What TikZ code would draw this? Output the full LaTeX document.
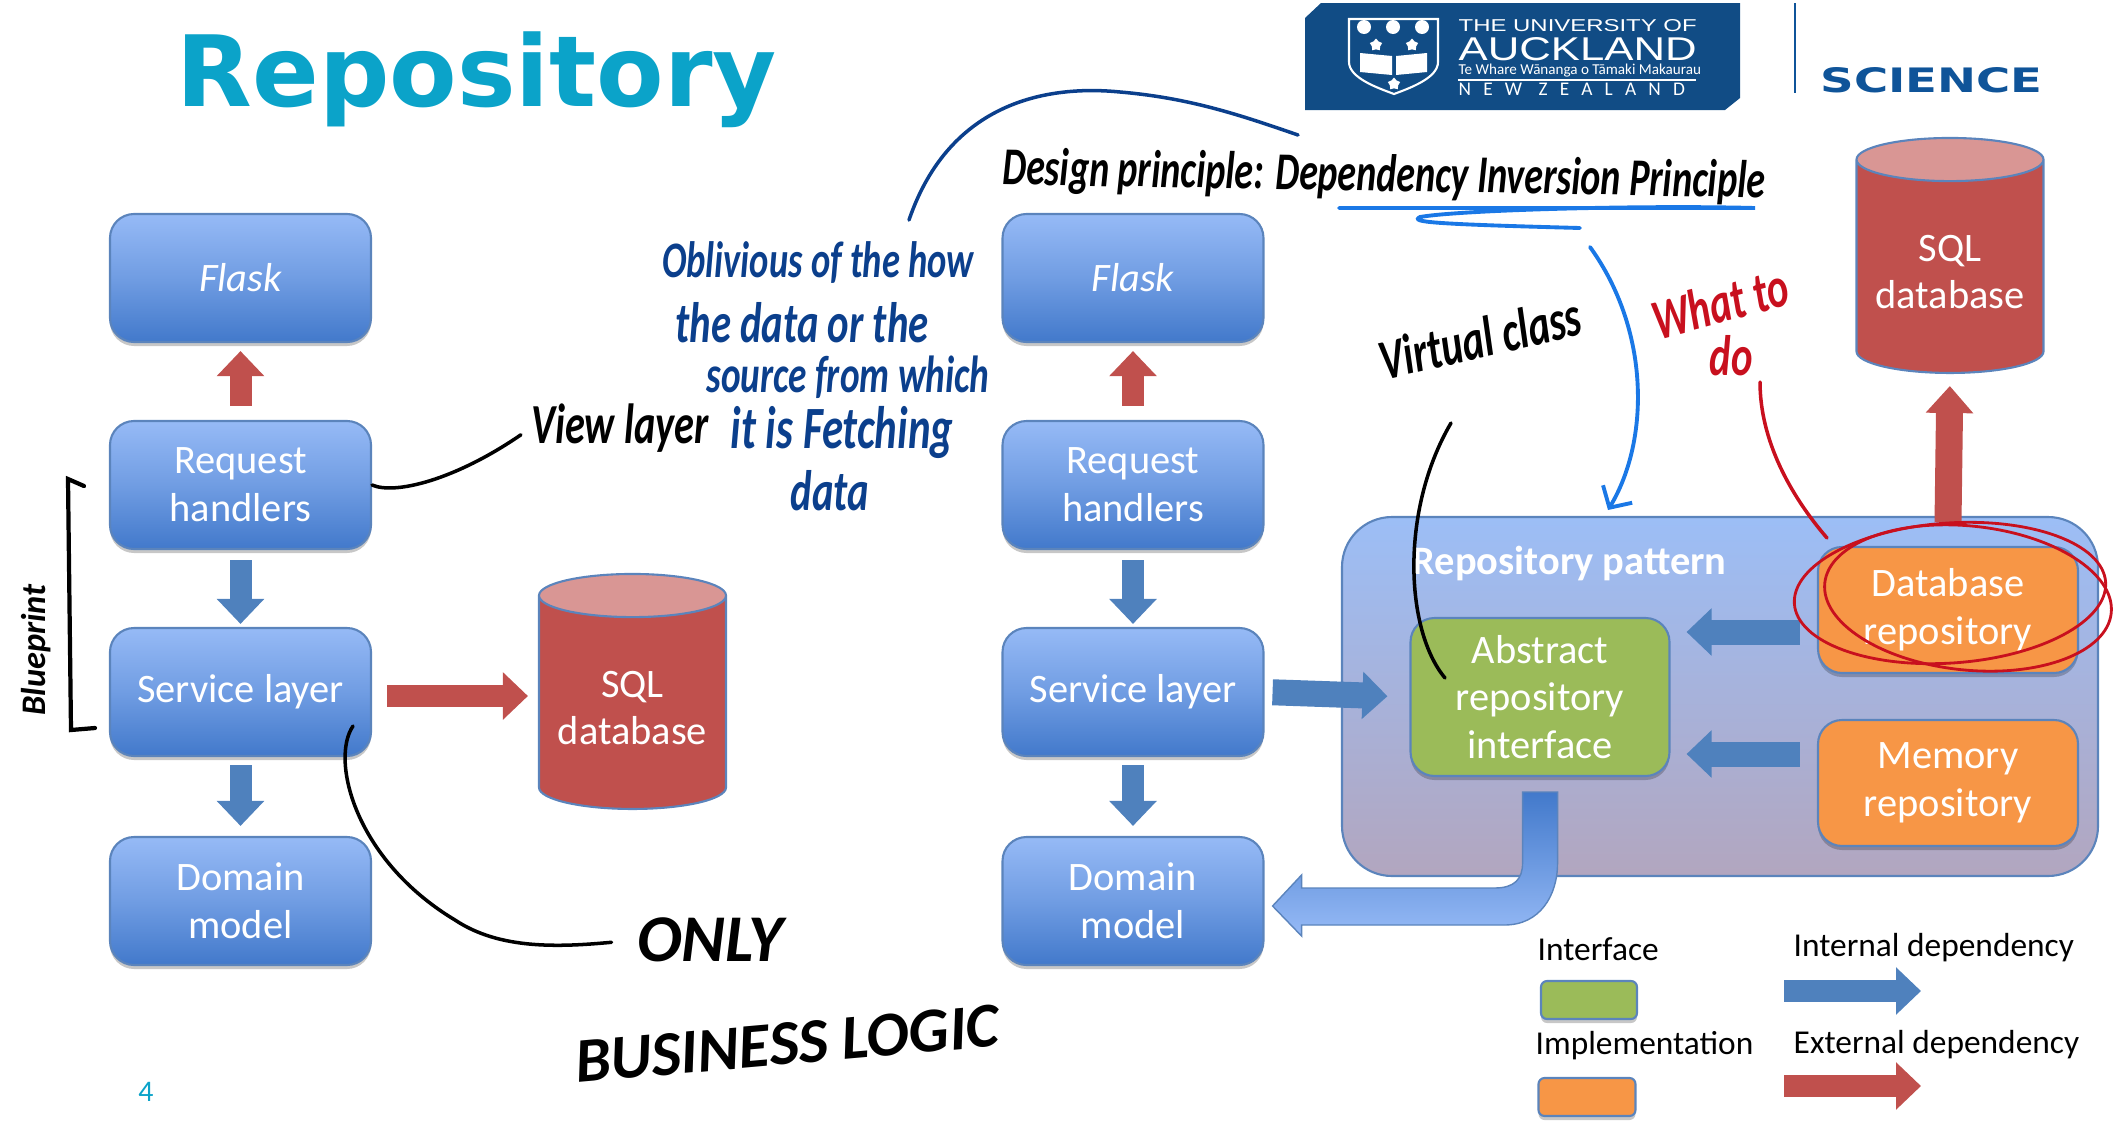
\documentclass[tikz,border=0pt]{standalone}
\usepackage{fontspec}
\setmainfont{Carlito}
\newfontfamily\titlefont{DejaVu Sans}
\newfontfamily\inkfont{Carlito}
\newfontfamily\logofont{Liberation Sans}
\usetikzlibrary{arrows.meta,shapes.geometric,shadows}

\definecolor{boxtop}{HTML}{96BAF6}
\definecolor{boxbot}{HTML}{4279CB}
\definecolor{pattop}{HTML}{9CBEF6}
\definecolor{patbot}{HTML}{B2A6BF}
\definecolor{greenbox}{HTML}{9BBB59}
\definecolor{orangebox}{HTML}{F79646}
\definecolor{redarrow}{HTML}{C0504D}
\definecolor{bluearrow}{HTML}{4F81BD}
\definecolor{edgeblue}{HTML}{5B84BC}
\definecolor{cyltop}{HTML}{D99694}
\definecolor{titleteal}{HTML}{0BA3C9}
\definecolor{logoblue}{HTML}{114C85}
\definecolor{sciblue}{HTML}{0F5499}
\definecolor{darkink}{HTML}{0B3F8C}
\definecolor{brightink}{HTML}{1A78E6}
\definecolor{redink}{HTML}{C8101E}

\newcommand{\tallink}[1]{\scalebox{1}[1.4]{#1}}

\tikzset{
  softshadow/.style={general shadow={shadow yshift=-0.04cm,fill=black,opacity=0.22}},
  layerbox/.style={rounded corners=0.24cm,draw=edgeblue,semithick,minimum width=2.61cm,minimum height=1.28cm,
    align=center,text=white,font=\fontsize{11.5}{13.6}\selectfont,top color=boxtop,bottom color=boxbot,middle color=boxtop!55!boxbot,softshadow},
  flatbox/.style={rounded corners=0.24cm,draw=edgeblue,semithick,align=center,text=white,
    font=\fontsize{11.5}{13.6}\selectfont,softshadow},
  sqldb/.style={cylinder,shape border rotate=90,aspect=0.25,draw=edgeblue,semithick,cylinder uses custom fill,
    cylinder body fill=redarrow,cylinder end fill=cyltop,minimum width=1.87cm,minimum height=2.35cm,
    align=center,text=white,font=\fontsize{11.5}{13.6}\selectfont},
  intarrow/.style={bluearrow,line width=0.22cm,-{Triangle[width=0.46cm,length=0.25cm]}},
  extarrow/.style={redarrow,line width=0.22cm,-{Triangle[width=0.46cm,length=0.25cm]}},
  inktext/.style={font=\inkfont\bfseries\itshape\fontsize{12}{12}\selectfont,text=black,inner sep=0pt},
  logotext/.style={font=\logofont,text=white,anchor=west,inner sep=0pt},
  keytext/.style={font=\fontsize{9.5}{10}\selectfont,text=black,anchor=west,inner sep=0pt},
  blackstroke/.style={black,line width=1pt,line cap=round},
  darkstroke/.style={darkink,line width=1pt,line cap=round},
  brightstroke/.style={brightink,line width=1.1pt,line cap=round},
  redstroke/.style={redink,line width=0.8pt,line cap=round},
}

\begin{document}
\begin{tikzpicture}[x=1cm,y=-1cm]

  \useasboundingbox (0,0) rectangle (21.27,11.34);

  % Title and page number
  \node[font=\titlefont\bfseries\fontsize{28}{28}\selectfont,text=titleteal,anchor=west,inner sep=0pt] (title) at (1.76,0.80) {Repository};
  \node[font=\fontsize{8.5}{10}\selectfont,text=titleteal,inner sep=0pt] (pagenum) at (1.46,10.92) {4};

  % Logo block
  \fill[logoblue] (13.21,0.03) -- (17.40,0.03) -- (17.40,0.98) -- (17.25,1.10) -- (13.05,1.10) -- (13.05,0.18) -- cycle;
  \draw[white,line width=0.6pt] (13.49,0.19) -- (14.38,0.19) -- (14.38,0.62) .. controls (14.38,0.78) and (14.10,0.88) .. (13.94,0.94) .. controls (13.78,0.88) and (13.49,0.78) .. (13.49,0.62) -- cycle;
  \foreach \x in {13.64,13.93,14.22} {
    \fill[white] (\x,0.27) circle (0.07);
  }
  \fill[white] (13.60,0.53) -- (13.92,0.56) -- (13.92,0.75) -- (13.60,0.72) -- cycle;
  \fill[white] (14.27,0.53) -- (13.96,0.56) -- (13.96,0.75) -- (14.27,0.72) -- cycle;
  \node[star,fill=white,minimum size=0.13cm,inner sep=0pt] (starl) at (13.76,0.45) {};
  \node[star,fill=white,minimum size=0.13cm,inner sep=0pt] (starr) at (14.12,0.45) {};
  \node[star,fill=white,minimum size=0.13cm,inner sep=0pt] (starb) at (13.94,0.84) {};
  \node[logotext] (logoa) at (14.58,0.26) {\resizebox{2.38cm}{0.12cm}{THE UNIVERSITY OF}};
  \node[logotext] (logob) at (14.58,0.495) {\resizebox{2.38cm}{0.23cm}{AUCKLAND}};
  \node[logotext,font=\fontsize{4.3}{5}\selectfont] (logoc) at (14.58,0.71) {Te Whare Wānanga o Tāmaki Makaurau};
  \draw[white,line width=0.3pt] (14.58,0.80) -- (16.96,0.80);
  \node[logotext,font=\fontsize{5.5}{6}\selectfont] (logod) at (14.58,0.895) {\addfontfeature{LetterSpace=63}NEW ZEALAND};
  \draw[sciblue,line width=0.6pt] (17.95,0.03) -- (17.95,0.93);
  \node[font=\titlefont\bfseries,text=sciblue,anchor=west,inner sep=0pt] (science) at (18.20,0.805) {\resizebox{2.22cm}{0.25cm}{SCIENCE}};

  % Left stack
  \node[layerbox] (flaskl) at (2.405,2.78) {\itshape Flask};
  \node[layerbox] (reql)   at (2.405,4.85) {Request\\handlers};
  \node[layerbox] (svcl)   at (2.405,6.92) {Service layer};
  \node[layerbox] (doml)   at (2.405,9.01) {Domain\\model};
  \node[sqldb]    (sqll)   at (6.325,7.08) {SQL\\database};

  \draw[extarrow,shorten <=0.14cm,shorten >=0.08cm] (reql.north) -- (flaskl.south);
  \draw[intarrow,shorten <=0.10cm,shorten >=0.03cm] (reql.south) -- (svcl.north);
  \draw[intarrow,shorten <=0.08cm,shorten >=0.10cm] (svcl.south) -- (doml.north);
  \draw[extarrow,shorten <=0.15cm,shorten >=0.10cm] (svcl.east |- 0,6.96) -- (sqll.west |- 0,6.96);

  % Repository panel (drawn first so the right stack sits clear of it)
  \node[rounded corners=0.5cm,draw=edgeblue,semithick,top color=pattop,bottom color=patbot,minimum width=7.56cm,minimum height=3.59cm] (patpanel) at (17.20,6.965) {};
  \node[font=\bfseries\fontsize{11.5}{13}\selectfont,text=white,anchor=west,inner sep=0pt] (patname) at (14.12,5.63) {Repository pattern};

  % Right stack
  \node[layerbox] (flaskr) at (11.33,2.78) {\itshape Flask};
  \node[layerbox] (reqr)   at (11.33,4.85) {Request\\handlers};
  \node[layerbox] (svcr)   at (11.33,6.92) {Service layer};
  \node[layerbox] (domr)   at (11.33,9.01) {Domain\\model};
  \node[sqldb]    (sqlr)   at (19.50,2.72) {SQL\\database};

  \node[flatbox,fill=greenbox,minimum width=2.59cm,minimum height=1.58cm] (absrepo) at (15.40,6.97) {Abstract\\repository\\interface};
  \node[flatbox,fill=orangebox,minimum width=2.60cm,minimum height=1.26cm] (dbrepo) at (19.48,6.10) {Database\\repository};
  \node[flatbox,fill=orangebox,minimum width=2.60cm,minimum height=1.26cm] (memrepo) at (19.48,7.83) {Memory\\repository};

  \draw[extarrow,shorten <=0.14cm,shorten >=0.08cm] (reqr.north) -- (flaskr.south);
  \draw[intarrow,shorten <=0.10cm,shorten >=0.03cm] (reqr.south) -- (svcr.north);
  \draw[intarrow,shorten <=0.08cm,shorten >=0.10cm] (svcr.south) -- (domr.north);
  \draw[intarrow,line width=0.26cm,shorten <=0.08cm,shorten >=0.22cm] (svcr.east) -- (absrepo.west);
  \draw[intarrow,line width=0.25cm,shorten <=0.17cm,shorten >=0.16cm] (dbrepo.west |- 0,6.32) -- (absrepo.east |- 0,6.32);
  \draw[intarrow,line width=0.25cm,shorten <=0.17cm,shorten >=0.16cm] (memrepo.west |- 0,7.54) -- (absrepo.east |- 0,7.54);
  \draw[redarrow,line width=0.27cm,-{Triangle[width=0.46cm,length=0.27cm]},shorten >=0.12cm] (dbrepo.north |- 0,5.22) -- (sqlr.south);

  % Bent arrow from the interface down to the domain model, tip at domr.east
  \shade[top color=boxbot,bottom color=boxtop,draw=edgeblue,shift={(domr.east)}]
    (2.58,-1.09) -- (2.93,-1.09) -- (2.93,-0.38) .. controls (2.93,-0.05) and (2.75,0.24) .. (2.40,0.24)
    -- (0.37,0.24) -- (0.37,0.35) -- (0.08,0.05) -- (0.37,-0.26) -- (0.37,-0.13)
    -- (2.30,-0.13) .. controls (2.50,-0.13) and (2.58,-0.22) .. (2.58,-0.38) -- cycle;

  % Legend
  \node[keytext] (keyiface) at (15.37,9.49) {Interface};
  \node[flatbox,fill=greenbox,rounded corners=0.06cm,minimum width=0.96cm,minimum height=0.38cm] (keygreen) at (15.89,10.00) {};
  \node[keytext] (keyimpl) at (15.35,10.46) {Implementation};
  \node[flatbox,fill=orangebox,rounded corners=0.06cm,minimum width=0.97cm,minimum height=0.38cm] (keyorange) at (15.87,10.97) {};
  \node[keytext] (keyint) at (17.93,9.48) {Internal dependency};
  \node[keytext] (keyext) at (17.93,10.45) {External dependency};
  \coordinate (intfrom) at (17.84,9.91);
  \coordinate (intto) at (19.21,9.91);
  \coordinate (extfrom) at (17.84,10.86);
  \coordinate (extto) at (19.21,10.86);
  \draw[intarrow] (intfrom) -- (intto);
  \draw[extarrow] (extfrom) -- (extto);

  % Handwritten notes, black
  \node[inktext] (viewnote) at (6.20,4.28) {\fontsize{11.5}{12}\selectfont\tallink{View layer}};
  \node[inktext,rotate=90] (blueprint) at (0.36,6.50) {\fontsize{9.8}{10}\selectfont Blueprint};
  \node[inktext] (onlynote) at (7.10,9.40) {\fontsize{19}{20}\selectfont ONLY};
  \node[inktext,rotate=5] (logicnote) at (7.87,10.44) {\fontsize{18}{18}\selectfont BUSINESS LOGIC};
  \node[inktext,rotate=-1] (designnote) at (13.84,1.77) {\fontsize{10.8}{12}\selectfont\tallink{Design principle: Dependency Inversion Principle}};
  \node[inktext,rotate=13] (virtnote) at (14.80,3.38) {\fontsize{11.6}{12}\selectfont\tallink{Virtual class}};

  \draw[blackstroke,shorten >=0.12cm] (reql.east) .. controls (3.95,4.95) and (4.55,4.80) .. (viewnote.west);
  \draw[blackstroke,line width=1.2pt] (0.84,4.86) -- (0.68,4.79) -- (0.71,7.30) -- (0.95,7.28);
  \draw[blackstroke,shorten >=0.25cm] (3.53,7.26) .. controls (3.30,7.60) and (3.55,8.60) .. (4.55,9.20) .. controls (5.00,9.50) and (5.60,9.47) .. (onlynote.west);
  \draw[blackstroke] (14.51,4.23) .. controls (14.00,5.10) and (14.05,6.30) .. (14.45,6.78);

  % Handwritten notes, dark blue
  \node[inktext,text=darkink] (noteone) at (8.18,2.63) {\fontsize{10.4}{12}\selectfont\tallink{Oblivious of the how}};
  \node[inktext,text=darkink] (notetwo) at (8.02,3.23) {\fontsize{11.6}{12}\selectfont\tallink{the data or the}};
  \node[inktext,text=darkink] (notethree) at (8.48,3.77) {\fontsize{10.6}{12}\selectfont\tallink{source from which}};
  \node[inktext,text=darkink] (notefour) at (8.42,4.32) {\fontsize{12.2}{12}\selectfont\tallink{it is Fetching}};
  \node[inktext,text=darkink] (notefive) at (8.30,4.91) {\fontsize{11.6}{12}\selectfont\tallink{data}};
  \draw[darkstroke] (9.09,2.20) .. controls (9.50,1.00) and (10.50,0.85) .. (11.20,0.92) .. controls (11.90,0.98) and (12.40,1.15) .. (12.98,1.35);

  % Underline and pointer, bright blue
  \coordinate (ulstart) at (13.39,2.08);
  \coordinate (ulend) at (17.55,2.08);
  \coordinate (ptrfrom) at (15.90,2.47);
  \coordinate (ptrto) at (16.08,5.10);
  \draw[brightstroke] (ulstart) -- (ulend) .. controls (16.40,2.05) and (14.60,2.10) .. (14.20,2.17) .. controls (14.10,2.22) and (14.30,2.24) .. (15.80,2.28);
  \draw[brightstroke,-{Straight Barb[length=0.16cm,width=0.34cm]}] (ptrfrom) .. controls (16.50,3.30) and (16.50,4.40) .. (ptrto);

  % Handwritten notes, red
  \node[inktext,text=redink,rotate=15] (whatnote) at (17.20,3.03) {\fontsize{11.6}{12}\selectfont\tallink{What to}};
  \node[inktext,text=redink] (donote) at (17.31,3.56) {\fontsize{11.6}{12}\selectfont\tallink{do}};
  \draw[redstroke,line width=1pt] (17.60,3.82) .. controls (17.60,4.40) and (17.90,4.95) .. (18.27,5.38);
  \draw[redstroke] (19.50,5.93) ellipse [x radius=1.56cm,y radius=0.70cm,rotate=4];
  \draw[redstroke] (19.68,5.98) ellipse [x radius=1.44cm,y radius=0.72cm,rotate=-6];

\end{tikzpicture}
\end{document}
